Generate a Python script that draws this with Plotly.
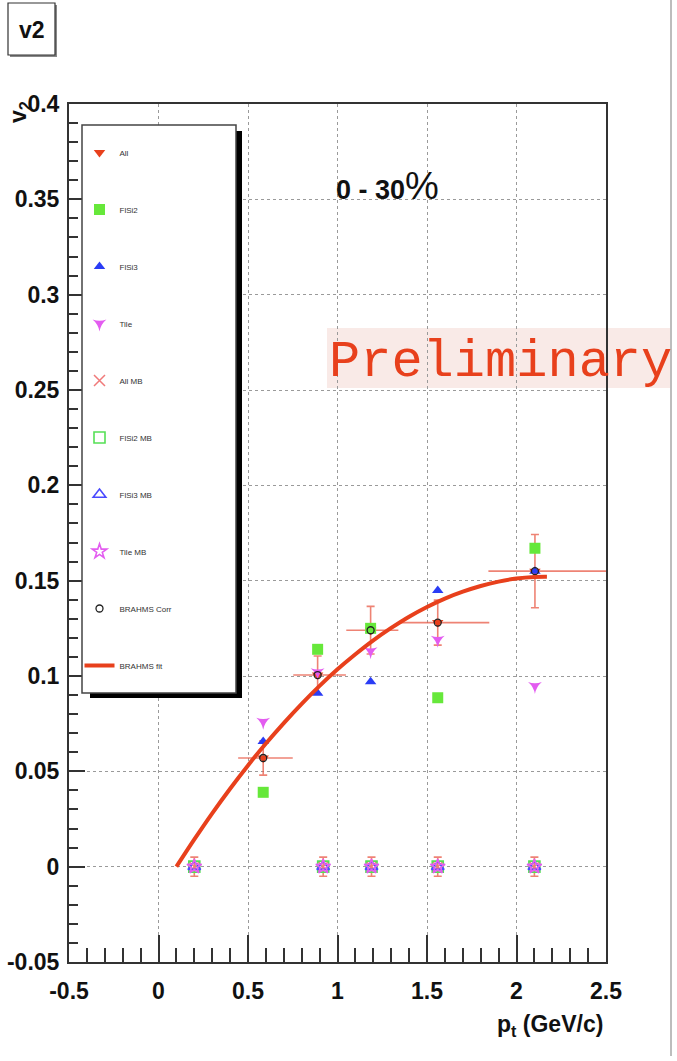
import plotly.graph_objects as go

# ---------------- data ----------------
pt = [0.585, 0.889, 1.185, 1.56, 2.103]
v2_all = [0.057, 0.1005, 0.124, 0.128, 0.155]
v2_all_err = [0.009, 0.010, 0.0125, 0.0118, 0.0192]
pt_err_minus = [0.14, 0.136, 0.136, 0.21, 0.26]
pt_err_plus = [0.165, 0.158, 0.155, 0.288, 0.437]
v2_flsi2 = [0.039, 0.114, 0.125, 0.0886, 0.167]
v2_flsi3 = [0.0656, 0.091, 0.097, 0.1448, 0.155]
v2_tile = [0.076, 0.102, 0.113, 0.119, 0.0948]
v2_corr = [0.057, 0.1005, 0.124, 0.128, 0.155]

pt_mb = [0.2, 0.92, 1.19, 1.56, 2.10]
v2_mb = [0.0, 0.0, 0.0, 0.0, 0.0]
v2_mb_err = [0.005, 0.005, 0.005, 0.005, 0.005]

pt_fit = [0.10, 0.20, 0.30, 0.40, 0.50, 0.60, 0.70, 0.80, 0.90, 1.00, 1.10, 1.20,
          1.30, 1.40, 1.50, 1.60, 1.70, 1.80, 1.90, 2.00, 2.10, 2.17]
v2_fit = [0.0, 0.0143, 0.0280, 0.0409, 0.0531, 0.0646, 0.0753, 0.0854, 0.0948, 0.1035, 0.1114, 0.1187,
          0.1252, 0.1311, 0.1362, 0.1406, 0.1442, 0.1472, 0.1495, 0.1511, 0.1519, 0.1520]

x_ticks = [-0.5, 0, 0.5, 1, 1.5, 2, 2.5]
x_labels = ["-0.5", "0", "0.5", "1", "1.5", "2", "2.5"]
y_ticks = [-0.05, 0, 0.05, 0.1, 0.15, 0.2, 0.25, 0.3, 0.35, 0.4]
y_labels = ["-0.05", "0", "0.05", "0.1", "0.15", "0.2", "0.25", "0.3", "0.35", "0.4"]

# ---------------- layout geometry ----------------
W, H = 677, 1061
L, R, T, B = 69, 606, 104, 962


def px(x):
    return (x - L) / (R - L)


def py(y):
    return (B - y) / (B - T)


RED = "#e8401c"
GREEN = "#66e83a"
BLUE = "#2a3cf5"
MAG = "#e35cf0"
ERR = "rgba(232,90,70,0.75)"

fig = go.Figure()

fig.add_trace(go.Scatter(
    x=pt, y=v2_all, mode="markers", name="All", legendgroup="g1",
    marker=dict(symbol="triangle-down", size=10, color=RED),
    error_y=dict(type="data", array=v2_all_err, color=ERR, thickness=1.6, width=4),
    error_x=dict(type="data", array=pt_err_plus, arrayminus=pt_err_minus, symmetric=False,
                 color=ERR, thickness=1.6, width=0),
))
fig.add_trace(go.Scatter(
    x=pt, y=v2_flsi2, mode="markers", name="FlSi2", legendgroup="g2",
    marker=dict(symbol="square", size=11, color=GREEN),
))
fig.add_trace(go.Scatter(
    x=pt, y=v2_flsi3, mode="markers", name="FlSi3", legendgroup="g3",
    marker=dict(symbol="triangle-up", size=10, color=BLUE),
))
fig.add_trace(go.Scatter(
    x=pt, y=v2_tile, mode="markers", name="Tile", legendgroup="g4",
    marker=dict(symbol="star-triangle-down", size=10, color=MAG),
))
fig.add_trace(go.Scatter(
    x=pt_mb, y=v2_mb, mode="markers", name="All MB", legendgroup="g5",
    marker=dict(symbol="x-thin-open", size=11, color="#f07a7a", line=dict(color="#f07a7a", width=1.5)),
    error_y=dict(type="data", array=v2_mb_err, color=ERR, thickness=1.6, width=4),
))
fig.add_trace(go.Scatter(
    x=pt_mb, y=v2_mb, mode="markers", name="FlSi2 MB", legendgroup="g6",
    marker=dict(symbol="square-open", size=11, color="#55e055", line=dict(width=1.6)),
))
fig.add_trace(go.Scatter(
    x=pt_mb, y=v2_mb, mode="markers", name="FlSi3 MB", legendgroup="g7",
    marker=dict(symbol="triangle-up-open", size=11, color="#4a4aff", line=dict(width=1.6)),
))
fig.add_trace(go.Scatter(
    x=pt_mb, y=v2_mb, mode="markers", name="Tile MB", legendgroup="g8",
    marker=dict(symbol="star-open", size=11, color=MAG, line=dict(width=1.6)),
))
fig.add_trace(go.Scatter(
    x=pt, y=v2_corr, mode="markers", name="BRAHMS Corr", legendgroup="g9",
    marker=dict(symbol="circle-open", size=7, color="#222", line=dict(width=1.3)),
))
fig.add_trace(go.Scatter(
    x=pt_fit, y=v2_fit, mode="lines", name="BRAHMS fit", legendgroup="g10",
    line=dict(color=RED, width=4, shape="spline"),
))

axis_common = dict(
    showline=True, mirror=True, linecolor="#333", linewidth=2,
    ticks="inside", tickcolor="#333", tickwidth=1.5,
    showgrid=True, gridcolor="#9a9a9a", griddash="dot", gridwidth=1,
    zeroline=False, automargin=False,
    tickfont=dict(family="Liberation Sans", size=23, color="#111", weight="bold"),
)

fig.update_xaxes(
    range=[-0.5, 2.5], tickvals=x_ticks, ticktext=x_labels, ticklen=27, ticklabelstandoff=7,
    minor=dict(dtick=0.1, ticks="inside", ticklen=14, tickcolor="#333", tickwidth=1.5, showgrid=False),
    **axis_common,
)
fig.update_yaxes(
    range=[-0.05, 0.4], tickvals=y_ticks, ticktext=y_labels, ticklen=16, ticklabelstandoff=3,
    minor=dict(dtick=0.01, ticks="inside", ticklen=9, tickcolor="#333", tickwidth=1.5, showgrid=False),
    **axis_common,
)

shapes = [
    # Preliminary background band
    dict(type="rect", xref="paper", yref="paper", x0=px(327), x1=px(672), y0=py(388), y1=py(328),
         fillcolor="#f9eae7", line=dict(width=0), layer="below"),
    # legend shadow and box
    dict(type="rect", xref="paper", yref="paper", x0=px(90), x1=px(242), y0=py(698), y1=py(131),
         fillcolor="#000", line=dict(width=0), layer="above"),
    dict(type="rect", xref="paper", yref="paper", x0=px(82), x1=px(236), y0=py(693), y1=py(125),
         fillcolor="#fff", line=dict(color="#444", width=1.5), layer="above"),
    # v2 title box
    dict(type="rect", xref="paper", yref="paper", x0=px(10), x1=px(57), y0=py(57), y1=py(5),
         fillcolor="#888", line=dict(width=0), layer="above"),
    dict(type="rect", xref="paper", yref="paper", x0=px(8), x1=px(55), y0=py(55), y1=py(3),
         fillcolor="#fff", line=dict(color="#333", width=1.2), layer="above"),
    # right canvas border
    dict(type="line", xref="paper", yref="paper", x0=px(671), x1=px(671), y0=py(1056), y1=py(0),
         line=dict(color="#bdbdbd", width=2)),
]

annotations = [
    dict(text="<b>v2</b>", x=px(31.5), y=py(30), xref="paper", yref="paper",
         showarrow=False, xanchor="center", yanchor="middle",
         font=dict(family="Liberation Sans", size=23, color="#111")),
    dict(text="<b>v<sub>2</sub></b>", x=px(19), y=py(112), xref="paper", yref="paper",
         showarrow=False, xanchor="center", yanchor="middle", textangle=-90,
         font=dict(family="Liberation Sans", size=23, color="#111")),
    dict(text="<b>p<sub>t</sub> (GeV/c)</b>", x=px(605), y=py(1025), xref="paper", yref="paper",
         showarrow=False, xanchor="right", yanchor="middle",
         font=dict(family="Liberation Sans", size=23, color="#111")),
    dict(text="<b>0 - 30</b><span style='font-size:38px'>%</span>", x=px(334), y=py(186),
         xref="paper", yref="paper", showarrow=False, xanchor="left", yanchor="middle",
         font=dict(family="Liberation Sans", size=27, color="#111")),
    dict(text="Preliminary", x=px(327), y=py(362), xref="paper", yref="paper",
         showarrow=False, xanchor="left", yanchor="middle",
         font=dict(family="Liberation Mono", size=52, color=RED)),
]

fig.update_layout(
    width=W, height=H,
    margin=dict(l=L, r=W - R, t=T, b=H - B, autoexpand=False),
    paper_bgcolor="#fff", plot_bgcolor="rgba(0,0,0,0)",
    shapes=shapes, annotations=annotations,
    showlegend=True,
    legend=dict(
        x=px(79.5), y=py(138), xanchor="left", yanchor="top",
        bgcolor="rgba(0,0,0,0)", borderwidth=0,
        tracegroupgap=38, itemwidth=30,
        font=dict(family="Liberation Sans", size=8, color="#333"),
    ),
)

fig.write_html("out.html")
